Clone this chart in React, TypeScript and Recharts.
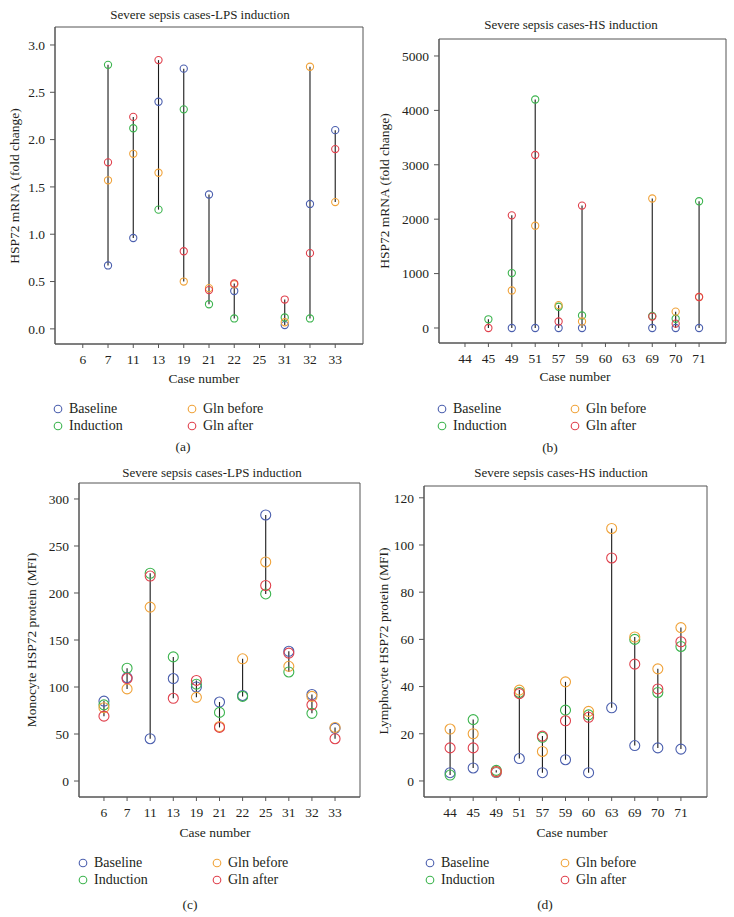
import React from "react";
import { ScatterChart, Scatter, XAxis, YAxis, ReferenceLine, ReferenceArea } from "recharts";

// ---- data ----
const casesA = ["6", "7", "11", "13", "19", "21", "22", "25", "31", "32", "33"];
const baselineA = [null, 0.67, 0.96, 2.4, 2.75, 1.42, 0.4, null, 0.04, 1.32, 2.1];
const inductionA = [null, 2.79, 2.12, 1.26, 2.32, 0.26, 0.11, null, 0.12, 0.11, null];
const glnBeforeA = [null, 1.57, 1.85, 1.65, 0.5, 0.43, 0.47, null, 0.07, 2.77, 1.34];
const glnAfterA = [null, 1.76, 2.24, 2.84, 0.82, 0.41, 0.48, null, 0.31, 0.8, 1.9];

const casesB = ["44", "45", "49", "51", "57", "59", "60", "63", "69", "70", "71"];
const baselineB = [null, null, 0, 0, 0, 0, null, null, 0, 0, 0];
const inductionB = [null, 160, 1010, 4200, 390, 230, null, null, 220, 170, 2330];
const glnBeforeB = [null, null, 690, 1880, 420, 120, null, null, 2380, 300, 570];
const glnAfterB = [null, 0, 2070, 3180, 120, 2250, null, null, 210, 80, 570];

const casesC = ["6", "7", "11", "13", "19", "21", "22", "25", "31", "32", "33"];
const baselineC = [85, 110, 45, 109, 100, 84, 91, 283, 138, 92, 56];
const inductionC = [81, 120, 221, 132, 103, 73, 90, 199, 116, 72, null];
const glnBeforeC = [78, 98, 185, null, 89, 58, 130, 233, 122, 90, 57];
const glnAfterC = [69, 109, 218, 88, 107, 57, null, 208, 136, 81, 45];

const casesD = ["44", "45", "49", "51", "57", "59", "60", "63", "69", "70", "71"];
const baselineD = [3.5, 5.5, 3.6, 9.5, 3.5, 9, 3.5, 31, 15, 14, 13.5];
const inductionD = [2.5, 26, 4.5, 37.5, 18.5, 30, 28, null, 60, 37.5, 57];
const glnBeforeD = [22, 20, 3.8, 38.5, 12.5, 42, 29.5, 107, 61, 47.5, 65];
const glnAfterD = [14, 14, 4, 37, 19, 25.5, 27, 94.5, 49.5, 39, 59];

const ticksA = [0, 0.5, 1, 1.5, 2, 2.5, 3];
const ticksB = [0, 1000, 2000, 3000, 4000, 5000];
const ticksC = [0, 50, 100, 150, 200, 250, 300];
const ticksD = [0, 20, 40, 60, 80, 100, 120];

const seriesNames = ["Baseline", "Induction", "Gln before", "Gln after"];
const COLORS = ["#4b5fae", "#3cb44e", "#f0a33a", "#e0404c"];
const INK = "#231f20";
const FONT = "'Liberation Serif', 'DejaVu Serif', serif";

type Val = number | null;

function toPoints(vals: Val[]) {
  return vals
    .map((v, i) => (v == null ? null : { x: i, y: v }))
    .filter((p) => p !== null) as { x: number; y: number }[];
}

function Panel(props: {
  box: [number, number, number, number];
  cases: string[];
  series: Val[][];
  xDomain: [number, number];
  yDomain: [number, number];
  yTicks: number[];
  yFmt: (v: number) => string;
  r: number;
}) {
  const { box, cases, series, xDomain, yDomain, yTicks, yFmt, r } = props;
  const [bl, bt, br, bb] = box;
  const yw = 60;
  const xh = 40;
  const segs = cases.map((_, i) => {
    const vals = series.map((s) => s[i]).filter((v) => v != null) as number[];
    if (vals.length < 2) return null;
    return { x: i, lo: Math.min(...vals), hi: Math.max(...vals) };
  });
  return (
    <div style={{ position: "absolute", left: bl - yw, top: bt - 2 }}>
      <ScatterChart
        width={br - bl + yw + 2}
        height={bb - bt + 2 + xh}
        margin={{ top: 2, right: 2, bottom: 0, left: 0 }}
      >
        <XAxis
          type="number"
          dataKey="x"
          domain={xDomain}
          allowDataOverflow
          ticks={cases.map((_, i) => i)}
          tickFormatter={(i: number) => cases[i]}
          interval={0}
          height={xh}
          tickSize={4}
          tickMargin={6}
          axisLine={{ stroke: "#555" }}
          tickLine={{ stroke: "#555" }}
          tick={{ fill: INK, fontSize: 13.5, fontFamily: FONT }}
        />
        <YAxis
          type="number"
          dataKey="y"
          domain={yDomain}
          allowDataOverflow
          ticks={yTicks}
          tickFormatter={yFmt}
          width={yw}
          tickSize={5}
          tickMargin={5}
          axisLine={{ stroke: "#555" }}
          tickLine={{ stroke: "#555" }}
          tick={{ fill: INK, fontSize: 13.5, fontFamily: FONT }}
        />
        <ReferenceArea
          x1={xDomain[0]}
          x2={xDomain[1]}
          y1={yDomain[0]}
          y2={yDomain[1]}
          fill="none"
          stroke="#555"
          strokeWidth={1}
          ifOverflow="visible"
        />
        {series.map((s, k) => (
          <Scatter
            key={seriesNames[k]}
            name={seriesNames[k]}
            data={toPoints(s)}
            isAnimationActive={false}
            shape={(p: any) => (
              <circle cx={p.cx} cy={p.cy} r={r} fill="none" stroke={COLORS[k]} strokeWidth={1.1} />
            )}
          />
        ))}
        {segs.map((s) =>
          s ? (
            <ReferenceLine
              key={"seg" + s.x}
              segment={[
                { x: s.x, y: s.lo },
                { x: s.x, y: s.hi },
              ]}
              stroke="#1a1a1a"
              strokeWidth={1.1}
            />
          ) : null
        )}
      </ScatterChart>
    </div>
  );
}

function Txt(props: { x: number; y: number; size?: number; rot?: boolean; children: React.ReactNode }) {
  const { x, y, size = 13.5, rot, children } = props;
  return (
    <div
      style={{
        position: "absolute",
        left: x,
        top: y,
        transform: `translate(-50%, -50%)${rot ? " rotate(-90deg)" : ""}`,
        whiteSpace: "nowrap",
        fontSize: size,
        color: INK,
        lineHeight: 1,
      }}
    >
      {children}
    </div>
  );
}

function LegendBlock(props: { x1: number; x2: number; y: number }) {
  const { x1, x2, y } = props;
  const spots = [
    [x1, y],
    [x1, y + 17],
    [x2, y],
    [x2, y + 17],
  ];
  return (
    <>
      {spots.map(([mx, my], k) => (
        <div key={k} style={{ position: "absolute", left: mx - 5, top: my - 8, height: 16, display: "flex", alignItems: "center" }}>
          <svg width={10} height={10} style={{ display: "block" }}>
            <circle cx={5} cy={5} r={3.8} fill="none" stroke={COLORS[k]} strokeWidth={1.1} />
          </svg>
          <span style={{ marginLeft: 6, fontSize: 14, color: INK, lineHeight: 1 }}>{seriesNames[k]}</span>
        </div>
      ))}
    </>
  );
}

export default function App() {
  return (
    <div
      style={{
        position: "absolute",
        left: 0,
        top: 0,
        width: 734,
        height: 917,
        background: "#fff",
        fontFamily: FONT,
        overflow: "hidden",
      }}
    >
      {/* (a) */}
      <Txt x={200} y={14} size={13}>Severe sepsis cases-LPS induction</Txt>
      <Panel
        box={[55, 27, 363, 344]}
        cases={casesA}
        series={[baselineA, inductionA, glnBeforeA, glnAfterA]}
        xDomain={[-1.1, 11.1]}
        yDomain={[-0.16, 3.19]}
        yTicks={ticksA}
        yFmt={(v) => v.toFixed(1)}
        r={3.6}
      />
      <Txt x={15} y={186} rot>HSP72 mRNA (fold change)</Txt>
      <Txt x={204} y={379}>Case number</Txt>
      <LegendBlock x1={58} x2={192} y={409} />
      <Txt x={183} y={447}>(a)</Txt>

      {/* (b) */}
      <Txt x={571} y={24} size={13}>Severe sepsis cases-HS induction</Txt>
      <Panel
        box={[439, 39, 726, 343]}
        cases={casesB}
        series={[baselineB, inductionB, glnBeforeB, glnAfterB]}
        xDomain={[-1.11, 11.15]}
        yDomain={[-276, 5312]}
        yTicks={ticksB}
        yFmt={(v) => String(v)}
        r={3.6}
      />
      <Txt x={385} y={191} rot>HSP72 mRNA (fold change)</Txt>
      <Txt x={575} y={377}>Case number</Txt>
      <LegendBlock x1={442} x2={575} y={409} />
      <Txt x={550} y={448}>(b)</Txt>

      {/* (c) */}
      <Txt x={212} y={472} size={13}>Severe sepsis cases-LPS induction</Txt>
      <Panel
        box={[79, 483, 360, 797]}
        cases={casesC}
        series={[baselineC, inductionC, glnBeforeC, glnAfterC]}
        xDomain={[-1.08, 11.08]}
        yDomain={[-17, 317]}
        yTicks={ticksC}
        yFmt={(v) => String(v)}
        r={5}
      />
      <Txt x={32} y={640} rot>Monocyte HSP72 protein (MFI)</Txt>
      <Txt x={215} y={833}>Case number</Txt>
      <LegendBlock x1={83} x2={217} y={863} />
      <Txt x={190} y={905}>(c)</Txt>

      {/* (d) */}
      <Txt x={561} y={472} size={13}>Severe sepsis cases-HS induction</Txt>
      <Panel
        box={[424, 486, 707, 797]}
        cases={casesD}
        series={[baselineD, inductionD, glnBeforeD, glnAfterD]}
        xDomain={[-1.13, 11.13]}
        yDomain={[-6.8, 125]}
        yTicks={ticksD}
        yFmt={(v) => String(v)}
        r={5}
      />
      <Txt x={384} y={641} rot>Lymphocyte HSP72 protein (MFI)</Txt>
      <Txt x={572} y={833}>Case number</Txt>
      <LegendBlock x1={430} x2={565} y={863} />
      <Txt x={545} y={905}>(d)</Txt>
    </div>
  );
}
